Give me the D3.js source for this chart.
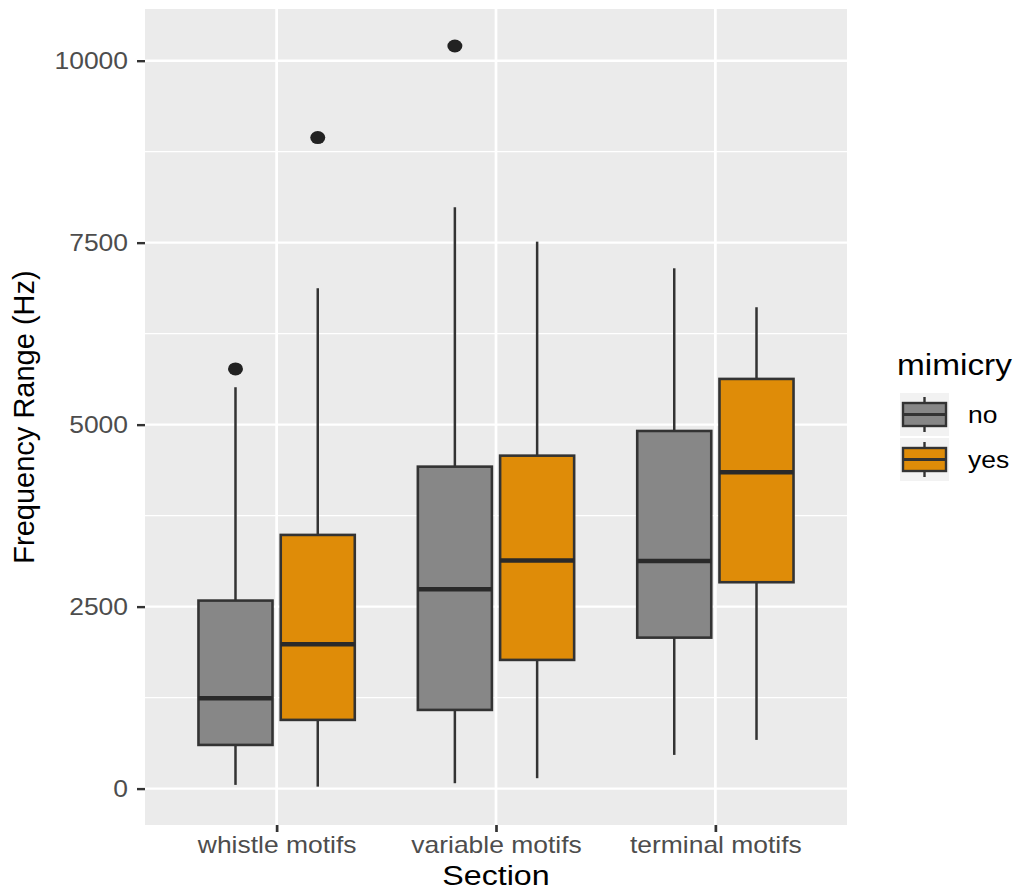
<!DOCTYPE html>
<html>
 <head>
  <title>Frequency Range by Section</title>
  <script src="https://d3js.org/d3.v7.min.js"></script>
  <style>
    body { margin:0; background:#fff; }
    text { font-family:"Liberation Sans", Arial, sans-serif; }
  </style>
 </head>
 <body>
  <svg></svg>
  <script>
    // boxplot stats, one pair [no, yes] per section
    var sections = ["whistle motifs", "variable motifs", "terminal motifs"];
    var mimicry  = ["no", "yes"];
    var whiskerLow  = [[51, 27],     [74, 143],    [463, 669]];
    var q1          = [[600, 944],   [1081, 1768], [2074, 2835]];
    var median      = [[1242, 1984], [2739, 3132], [3128, 4346]];
    var q3          = [[2583, 3485], [4423, 4574], [4913, 5628]];
    var whiskerHigh = [[5514, 6874], [7986, 7514], [7148, 6613]];
    var outliers    = [[[5765], [8943]], [[10202], []], [[], []]];
    var yTicks = [0, 2500, 5000, 7500, 10000];
    var yMinor = [1250, 3750, 6250, 8750];

    var W = 1019, H = 892;
    var SX = 1.15; // the picture is a bit wider than tall, text too
    var fills = {no:"#878787", yes:"#df8c08"};
    var outline = "#333333";

    var svg = d3.select("svg").attr("width", W).attr("height", H);

    var panel = {left:145, right:847, top:9, bottom:825};

    var x = d3.scalePoint().domain(sections).range([panel.left, panel.right]).padding(0.6);
    var step = x.step();
    var dodge = d3.scaleBand().domain(mimicry)
                  .range([-0.375*step, 0.375*step])
                  .paddingInner(0.1).paddingOuter(0.05);
    var y = d3.scaleLinear().domain([-500, 10710]).range([panel.bottom, panel.top]);

    // panel background + grid
    svg.append("rect").attr("x", panel.left).attr("y", panel.top)
       .attr("width", panel.right-panel.left).attr("height", panel.bottom-panel.top)
       .attr("fill", "#ebebeb");

    svg.append("g").selectAll("line").data(yMinor).enter().append("line")
       .attr("x1", panel.left).attr("x2", panel.right)
       .attr("y1", function(d){return y(d);}).attr("y2", function(d){return y(d);})
       .attr("stroke", "#fff").attr("stroke-width", 1.2);
    svg.append("g").selectAll("line").data(yTicks).enter().append("line")
       .attr("x1", panel.left).attr("x2", panel.right)
       .attr("y1", function(d){return y(d);}).attr("y2", function(d){return y(d);})
       .attr("stroke", "#fff").attr("stroke-width", 2.4);
    svg.append("g").selectAll("line").data(sections).enter().append("line")
       .attr("x1", function(d){return x(d);}).attr("x2", function(d){return x(d);})
       .attr("y1", panel.top).attr("y2", panel.bottom)
       .attr("stroke", "#fff").attr("stroke-width", 2.7);

    // flatten to one record per box
    var boxes = [];
    sections.forEach(function(s, i){
      mimicry.forEach(function(m, j){
        boxes.push({section:s, group:m, lo:whiskerLow[i][j], q1:q1[i][j], med:median[i][j],
                    q3:q3[i][j], hi:whiskerHigh[i][j], out:outliers[i][j]});
      });
    });

    var bw = dodge.bandwidth();
    var bx = function(d){ return x(d.section) + dodge(d.group); };
    var cx = function(d){ return bx(d) + bw/2; };

    var g = svg.append("g").selectAll("g").data(boxes).enter().append("g");

    g.append("line").attr("x1", cx).attr("x2", cx)
     .attr("y1", function(d){return y(d.q3);}).attr("y2", function(d){return y(d.hi);})
     .attr("stroke", outline).attr("stroke-width", 2.5);
    g.append("line").attr("x1", cx).attr("x2", cx)
     .attr("y1", function(d){return y(d.q1);}).attr("y2", function(d){return y(d.lo);})
     .attr("stroke", outline).attr("stroke-width", 2.5);
    g.append("rect").attr("x", bx).attr("width", bw)
     .attr("y", function(d){return y(d.q3);})
     .attr("height", function(d){return y(d.q1) - y(d.q3);})
     .attr("fill", function(d){return fills[d.group];})
     .attr("stroke", outline).attr("stroke-width", 2.6);
    g.append("line").attr("x1", bx).attr("x2", function(d){return bx(d)+bw;})
     .attr("y1", function(d){return y(d.med);}).attr("y2", function(d){return y(d.med);})
     .attr("stroke", "#2a2a2a").attr("stroke-width", 4.5);
    g.selectAll("ellipse").data(function(d){return d.out.map(function(v){return {x:cx(d), v:v};});})
     .enter().append("ellipse")
     .attr("cx", function(d){return d.x;}).attr("cy", function(d){return y(d.v);})
     .attr("rx", 7.5).attr("ry", 6.5).attr("fill", "#222");

    // axes
    var yAxis = svg.append("g").attr("transform", "translate(" + panel.left + ",0)")
                   .call(d3.axisLeft(y).tickValues(yTicks).tickSize(8).tickFormat(d3.format("d")));
    yAxis.select(".domain").remove();
    yAxis.selectAll(".tick line").attr("stroke", outline).attr("stroke-width", 2.4);
    yAxis.selectAll(".tick text").attr("x", 0).attr("dy", "0.35em")
         .attr("transform", "translate(-17,0) scale(" + SX + ",1)")
         .attr("fill", "#4d4d4d").style("font-size", "23px");

    var xAxis = svg.append("g").attr("transform", "translate(0," + panel.bottom + ")")
                   .call(d3.axisBottom(x).tickSize(7));
    xAxis.select(".domain").remove();
    xAxis.selectAll(".tick line").attr("stroke", outline).attr("stroke-width", 2.7);
    xAxis.selectAll(".tick text").attr("y", 0).attr("dy", 0)
         .attr("transform", "translate(0,28) scale(" + SX + ",1)")
         .attr("fill", "#4d4d4d").style("font-size", "23px");

    // titles
    svg.append("text").attr("text-anchor", "middle")
       .attr("transform", "translate(" + ((panel.left+panel.right)/2) + ",885) scale(" + SX + ",1)")
       .style("font-size", "28px").attr("fill", "#000").text("Section");
    svg.append("text").attr("text-anchor", "middle")
       .attr("transform", "translate(34," + ((panel.top+panel.bottom)/2) + ") rotate(-90)")
       .style("font-size", "29px").attr("fill", "#000").text("Frequency Range (Hz)");

    // legend
    var legend = svg.append("g").attr("transform", "translate(900,0)");
    legend.append("text").attr("transform", "translate(-3,375) scale(" + SX + ",1)")
          .style("font-size", "29px").attr("fill", "#000").text("mimicry");
    var keyW = 49, keyH = 43;
    var keys = legend.selectAll("g.key").data(mimicry).enter().append("g")
                     .attr("class", "key")
                     .attr("transform", function(d, i){ return "translate(0," + (393 + i*(keyH+2)) + ")"; });
    keys.append("rect").attr("width", keyW).attr("height", keyH).attr("fill", "#f2f2f2");
    keys.append("line").attr("x1", keyW/2).attr("x2", keyW/2).attr("y1", 4).attr("y2", keyH-4)
        .attr("stroke", outline).attr("stroke-width", 2.4);
    keys.append("rect").attr("x", 3).attr("y", 10).attr("width", keyW-6).attr("height", keyH-20)
        .attr("fill", function(d){return fills[d];}).attr("stroke", outline).attr("stroke-width", 2.4);
    keys.append("line").attr("x1", 3).attr("x2", keyW-3).attr("y1", keyH/2).attr("y2", keyH/2)
        .attr("stroke", outline).attr("stroke-width", 3);
    keys.append("text").attr("transform", "translate(68," + (keyH/2 + 8) + ") scale(" + SX + ",1)")
        .style("font-size", "23px").attr("fill", "#000").text(function(d){return d;});
  </script>
 </body>
</html>
